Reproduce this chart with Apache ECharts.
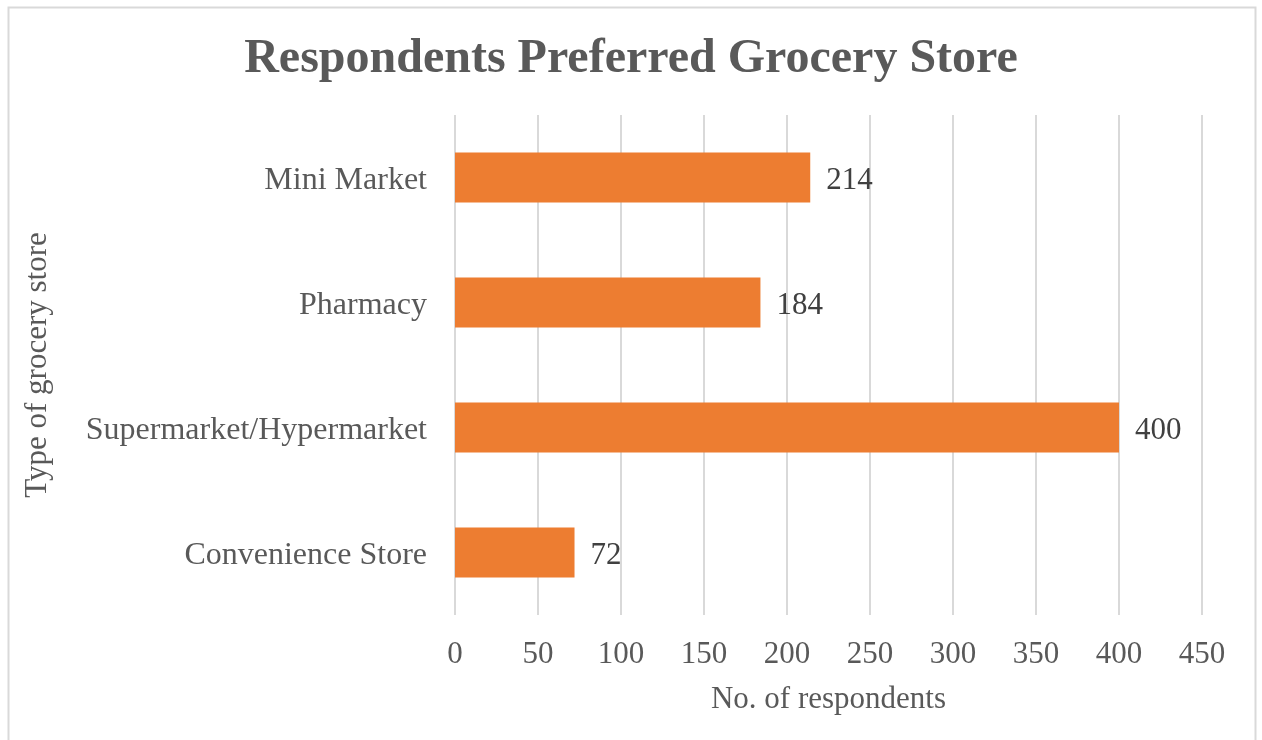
<!DOCTYPE html>
<html><head><meta charset="utf-8">
<script src="https://cdn.jsdelivr.net/npm/echarts@6/dist/echarts.min.js"></script>
<style>html,body{margin:0;padding:0;background:#fff}#c{width:1262px;height:740px}</style>
</head><body><div id="c"></div>
<script>
const categories = ['Convenience Store', 'Supermarket/Hypermarket', 'Pharmacy', 'Mini Market'];
const values = [72, 400, 184, 214];
const xTicks = [0, 50, 100, 150, 200, 250, 300, 350, 400, 450];

const font = '"Liberation Serif", "Times New Roman", serif';
const chart = echarts.init(document.getElementById('c'), null, {renderer: 'canvas'});
chart.setOption({
  backgroundColor: '#fff',
  animation: false,
  graphic: [{type: 'rect', shape: {x: 8.5, y: 7.5, width: 1247, height: 760}, style: {fill: 'none', stroke: '#d9d9d9', lineWidth: 2}, silent: true}],
  title: {text: 'Respondents Preferred Grocery Store', left: 'center', top: 31,
    textStyle: {fontFamily: font, fontSize: 48, fontWeight: 'bold', color: '#595959'}},
  grid: {left: 455, right: 60, top: 115, bottom: 125},
  xAxis: {type: 'value', min: xTicks[0], max: xTicks[xTicks.length - 1], interval: 50,
    name: 'No. of respondents', nameLocation: 'middle', nameGap: 69,
    nameTextStyle: {fontFamily: font, fontSize: 31, color: '#595959'},
    axisLine: {show: false}, axisTick: {show: false},
    axisLabel: {fontFamily: font, fontSize: 31, color: '#595959', margin: 24},
    splitLine: {lineStyle: {color: '#d9d9d9', width: 2}}},
  yAxis: {type: 'category', data: categories,
    name: 'Type of grocery store', nameLocation: 'middle', nameGap: 402, nameRotate: 90,
    nameTextStyle: {fontFamily: font, fontSize: 31, color: '#595959'},
    axisLine: {show: false}, axisTick: {show: false},
    axisLabel: {margin: 28, formatter: '{a|{value}}',
      rich: {a: {fontFamily: font, fontSize: 32, color: '#595959', padding: [6, 0, 0, 0]}}}},
  series: [{type: 'bar', data: values, barWidth: '40%',
    itemStyle: {color: '#ED7D31'},
    label: {show: true, position: 'right', distance: 16, offset: [0, 3], fontFamily: font, fontSize: 31, color: '#404040'}}]
});
</script></body></html>
